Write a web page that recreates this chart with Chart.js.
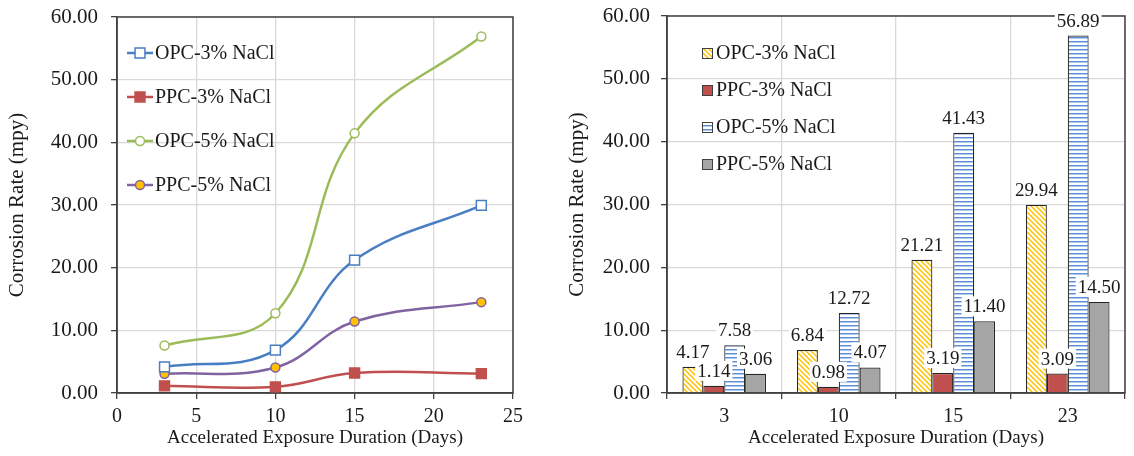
<!DOCTYPE html>
<html>
<head>
<meta charset="utf-8">
<script src="https://cdn.jsdelivr.net/npm/chart.js@4"></script>
<style>
  html, body { margin: 0; padding: 0; background: #fff; }
  #wrap { display: flex; width: 1134px; height: 456px; }
  canvas { display: block; }
</style>
</head>
<body>
<div id="wrap">
  <canvas id="chartLinea" width="560" height="456"></canvas>
  <canvas id="chartBarras" width="574" height="456"></canvas>
</div>
<script>
// datos
const dias = [3, 10, 15, 23]
const diasLabels = ['3', '10', '15', '23']
const nombres = ['OPC-3% NaCl', 'PPC-3% NaCl', 'OPC-5% NaCl', 'PPC-5% NaCl']
const opc3 = [4.17, 6.84, 21.21, 29.94]
const ppc3 = [1.14, 0.98, 3.19, 3.09]
const opc5 = [7.58, 12.72, 41.43, 56.89]
const ppc5 = [3.06, 4.07, 11.40, 14.50]
const yTicks = [0, 10, 20, 30, 40, 50, 60]
const xTicks = [0, 5, 10, 15, 20, 25]

const serif = "'Liberation Serif', 'Times New Roman', serif"
const txt = '#1a1a1a'
const grisGrid = '#D9D9D9'
const ejeColor = '#404040'

// ---------------- patrones para las barras
const hacerRayado = (color, tipo) => {
    const c = document.createElement('canvas')
    const s = tipo === 'diag' ? 5 : 4
    c.width = s
    c.height = s
    const g = c.getContext('2d')
    g.fillStyle = '#fff'
    g.fillRect(0, 0, s, s)
    g.strokeStyle = color
    if (tipo === 'diag') {
        g.lineWidth = 1.5
        g.beginPath()
        g.moveTo(-1, -1); g.lineTo(s + 1, s + 1)
        g.moveTo(-1, s - 1); g.lineTo(1, s + 1)
        g.moveTo(s - 1, -1); g.lineTo(s + 1, 1)
        g.stroke()
    } else {
        g.fillStyle = color
        g.fillRect(0, 1, s, 1)
        g.fillStyle = '#B3CAEB'
        g.fillRect(0, 2, s, 1)
    }
    return g.createPattern(c, 'repeat')
}

const coloresLinea = ['#4A7EC2', '#C0504D', '#9BBB59', '#8064A2']
const marcas = [
    { estilo: 'rect', r: 7, fondo: '#fff', borde: '#4A7EC2' },
    { estilo: 'rect', r: 7, fondo: '#C0504D', borde: '#C0504D' },
    { estilo: 'circle', r: 4.5, fondo: '#fff', borde: '#9BBB59' },
    { estilo: 'circle', r: 4.5, fondo: '#FFC000', borde: '#8064A2' }
]

const dibujarMarca = (ctx, m, x, y) => {
    ctx.save()
    ctx.fillStyle = m.fondo
    ctx.strokeStyle = m.borde
    ctx.lineWidth = 1.5
    ctx.beginPath()
    if (m.estilo === 'rect') {
        const h = m.r * Math.SQRT1_2
        ctx.rect(x - h, y - h, 2 * h, 2 * h)
    } else {
        ctx.arc(x, y, m.r, 0, Math.PI * 2)
    }
    ctx.fill()
    ctx.stroke()
    ctx.restore()
}

// marco alrededor del area del grafico
const marcoPlugin = {
    id: 'marco',
    beforeDatasetsDraw(chart) {
        const { ctx, chartArea: a } = chart
        ctx.save()
        ctx.strokeStyle = ejeColor
        ctx.lineWidth = 1.5
        ctx.strokeRect(a.left, a.top, a.right - a.left, a.bottom - a.top)
        ctx.restore()
    }
}

const escalaY = (ancho, pad) => ({
    min: 0,
    max: 60,
    afterBuildTicks: s => { s.ticks = yTicks.map(v => ({ value: v })) },
    afterFit: s => { s.width = ancho; s.paddingTop = 0; s.paddingBottom = 0 },
    grid: { color: grisGrid, lineWidth: 1.3, tickLength: 6, tickColor: ejeColor },
    border: { color: ejeColor, width: 1.5 },
    ticks: { color: txt, font: { family: serif, size: 21 }, padding: pad, callback: v => v.toFixed(2) },
    title: { display: true, text: 'Corrosion Rate (mpy)', color: txt, font: { family: serif, size: 21 }, padding: { top: 5, bottom: 0 } }
})

const tituloX = { display: true, text: 'Accelerated Exposure Duration (Days)', color: txt, font: { family: serif, size: 19 }, padding: { top: 0, bottom: 7 } }

// ---------------- grafico de lineas (izquierda)
const leyendaLinea = {
    id: 'leyendaLinea',
    afterDraw(chart) {
        const { ctx } = chart
        const ys = [53, 97, 141, 185]
        ctx.save()
        ctx.font = `20px ${serif}`
        ctx.textBaseline = 'middle'
        nombres.forEach((n, i) => {
            ctx.strokeStyle = coloresLinea[i]
            ctx.lineWidth = 2.5
            ctx.beginPath()
            ctx.moveTo(127, ys[i])
            ctx.lineTo(153, ys[i])
            ctx.stroke()
            dibujarMarca(ctx, marcas[i], 140, ys[i])
            ctx.fillStyle = txt
            ctx.fillText(n, 155, ys[i] + 1)
        })
        ctx.restore()
    }
}

const puntos = arr => arr.map((v, i) => ({ x: dias[i], y: v }))
const seriesLinea = [opc3, ppc3, opc5, ppc5]

new Chart(document.getElementById('chartLinea').getContext('2d'), {
    type: 'scatter',
    data: {
        datasets: seriesLinea.map((arr, i) => ({
            label: nombres[i],
            data: puntos(arr),
            showLine: true,
            tension: 0.4,
            borderColor: coloresLinea[i],
            borderWidth: 2.5,
            pointStyle: marcas[i].estilo,
            pointRadius: marcas[i].r,
            pointBackgroundColor: marcas[i].fondo,
            pointBorderColor: marcas[i].borde,
            pointBorderWidth: 1.5
        }))
    },
    options: {
        responsive: false,
        animation: false,
        events: [],
        layout: { padding: { left: 0, top: 17, right: 47, bottom: 0 } },
        plugins: { legend: { display: false }, tooltip: { enabled: false } },
        scales: {
            x: {
                type: 'linear',
                min: 0,
                max: 25,
                afterBuildTicks: s => { s.ticks = xTicks.map(v => ({ value: v })) },
                afterFit: s => { s.height = 63 },
                grid: { color: grisGrid, lineWidth: 1.3, tickLength: 6, tickColor: ejeColor },
                border: { color: ejeColor, width: 1.5 },
                ticks: { color: txt, font: { family: serif, size: 20 }, padding: 6 },
                title: tituloX
            },
            y: escalaY(117, 13)
        }
    },
    plugins: [marcoPlugin, leyendaLinea]
})

// ---------------- grafico de barras (derecha)
const rellenos = [
    hacerRayado('#FFC000', 'diag'),
    '#C0504D',
    hacerRayado('#5B8ED6', 'horiz'),
    '#A5A5A5'
]
const seriesBarras = [opc3, ppc3, opc5, ppc5]

const etiquetasPlugin = {
    id: 'etiquetas',
    afterDatasetsDraw(chart) {
        const { ctx } = chart
        ctx.save()
        ctx.font = `19px ${serif}`
        ctx.textAlign = 'center'
        ctx.textBaseline = 'middle'
        chart.data.datasets.forEach((ds, i) => {
            chart.getDatasetMeta(i).data.forEach((bar, j) => {
                const t = ds.data[j].toFixed(2)
                const w = ctx.measureText(t).width + 4
                const y = bar.y - 15
                ctx.fillStyle = '#fff'
                ctx.fillRect(bar.x - w / 2, y - 10, w, 20)
                ctx.fillStyle = txt
                ctx.fillText(t, bar.x, y + 1)
            })
        })
        ctx.restore()
    }
}

const leyendaBarras = {
    id: 'leyendaBarras',
    afterDraw(chart) {
        const { ctx } = chart
        const ys = [53, 90, 127, 164]
        ctx.save()
        ctx.font = `20px ${serif}`
        ctx.textBaseline = 'middle'
        nombres.forEach((n, i) => {
            ctx.fillStyle = rellenos[i]
            ctx.fillRect(142, ys[i] - 5, 10, 10)
            ctx.strokeStyle = ejeColor
            ctx.lineWidth = 1
            ctx.strokeRect(142.5, ys[i] - 4.5, 10, 10)
            ctx.fillStyle = txt
            ctx.fillText(n, 156, ys[i] + 1)
        })
        ctx.restore()
    }
}

new Chart(document.getElementById('chartBarras').getContext('2d'), {
    type: 'bar',
    data: {
        labels: diasLabels,
        datasets: seriesBarras.map((arr, i) => ({
            label: nombres[i],
            data: arr,
            backgroundColor: rellenos[i],
            borderColor: '#262626',
            borderWidth: 1.2,
            categoryPercentage: 0.73,
            barPercentage: 1.0
        }))
    },
    options: {
        responsive: false,
        animation: false,
        events: [],
        layout: { padding: { left: 0, top: 16, right: 9, bottom: 0 } },
        plugins: { legend: { display: false }, tooltip: { enabled: false } },
        scales: {
            x: {
                afterFit: s => { s.height = 63 },
                grid: { color: grisGrid, lineWidth: 1.3, tickLength: 6, tickColor: ejeColor },
                border: { color: ejeColor, width: 1.5 },
                ticks: { color: txt, font: { family: serif, size: 20 }, padding: 6 },
                title: tituloX
            },
            y: escalaY(107, 11)
        }
    },
    plugins: [marcoPlugin, etiquetasPlugin, leyendaBarras]
})
</script>
</body>
</html>
